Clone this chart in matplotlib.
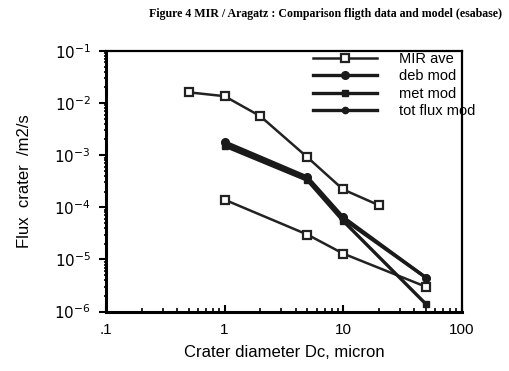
import matplotlib
matplotlib.use('Agg')
import matplotlib.pyplot as plt
from matplotlib.ticker import LogLocator, NullFormatter

# data
mir_x = [0.5, 1, 2, 5, 10, 20]
mir_y = [1.6e-2, 1.35e-2, 5.6e-3, 9.1e-4, 2.2e-4, 1.1e-4]
arag_x = [1, 5, 10, 50]
arag_y = [1.4e-4, 3.0e-5, 1.3e-5, 3.0e-6]
mod_x = [1, 5, 10, 50]
deb_y = [1.8e-3, 3.8e-4, 6.5e-5, 4.5e-6]
met_y = [1.5e-3, 3.3e-4, 5.5e-5, 1.4e-6]
tot_y = [1.7e-3, 3.6e-4, 6.0e-5, 4.5e-6]

plt.rcParams['font.family'] = ['Liberation Sans', 'DejaVu Sans']

fig = plt.figure(figsize=(5.1, 3.71), dpi=100)
ax = fig.add_axes([0.208, 0.160, 0.697, 0.703])

l1, = ax.plot(mir_x, mir_y, color='#222222', lw=1.8, marker='s', ms=6,
              mfc='white', mec='#222222', mew=1.6)
ax.plot(arag_x, arag_y, color='#222222', lw=1.8, marker='s', ms=6,
        mfc='white', mec='#222222', mew=1.6)
l2, = ax.plot(mod_x, deb_y, color='#1a1a1a', lw=2.4, marker='o', ms=5.5)
l3, = ax.plot(mod_x, met_y, color='#1a1a1a', lw=2.4, marker='s', ms=5)
l4, = ax.plot(mod_x, tot_y, color='#1a1a1a', lw=2.4, marker='o', ms=4.5)

ax.set_xscale('log')
ax.set_yscale('log')
ax.set_xlim(0.1, 100)
ax.set_ylim(1e-6, 1e-1)

ax.set_xticks([0.1, 1, 10, 100])
ax.set_xticklabels(['.1', '1', '10', '100'])
ax.xaxis.set_minor_locator(LogLocator(base=10, subs=range(2, 10)))
ax.xaxis.set_minor_formatter(NullFormatter())
yt = [1e-6, 1e-5, 1e-4, 1e-3, 1e-2, 1e-1]
ax.set_yticks(yt)
ax.set_yticklabels([r'$10^{-%d}$' % k for k in [6, 5, 4, 3, 2, 1]])
ax.yaxis.set_minor_locator(LogLocator(base=10, subs=range(2, 10)))
ax.yaxis.set_minor_formatter(NullFormatter())

ax.tick_params(axis='x', which='major', direction='in', length=5, width=1.5, labelsize=11, pad=8)
ax.tick_params(axis='x', which='minor', direction='in', length=3, width=1.2)
ax.tick_params(axis='y', which='major', direction='out', length=5, width=1.5, labelsize=11, pad=6)
ax.tick_params(axis='y', which='minor', direction='inout', length=3, width=1.2)
ax.tick_params(top=False, right=False, which='both')

for s in ax.spines.values():
    s.set_linewidth(1.6)
ax.spines['left'].set_linewidth(2.2)
ax.spines['bottom'].set_linewidth(2.2)

ax.set_xlabel('Crater diameter Dc, micron', fontsize=12, labelpad=6)
ax.set_ylabel('Flux  crater  /m2/s', fontsize=12, labelpad=16)

ax.legend([l1, l2, l3, l4], ['MIR ave', 'deb mod', 'met mod', 'tot flux mod'],
          loc='upper left', bbox_to_anchor=(0.545, 1.045), frameon=False,
          fontsize=10.5, handlelength=4.4, labelspacing=0.22, handletextpad=1.5)

fig.text(0.985, 0.955, 'Figure 4 MIR / Aragatz : Comparison fligth data and model (esabase)',
         family='Liberation Serif', fontsize=8.6, fontweight='bold', ha='right')

fig.savefig('out.png', dpi=100)
